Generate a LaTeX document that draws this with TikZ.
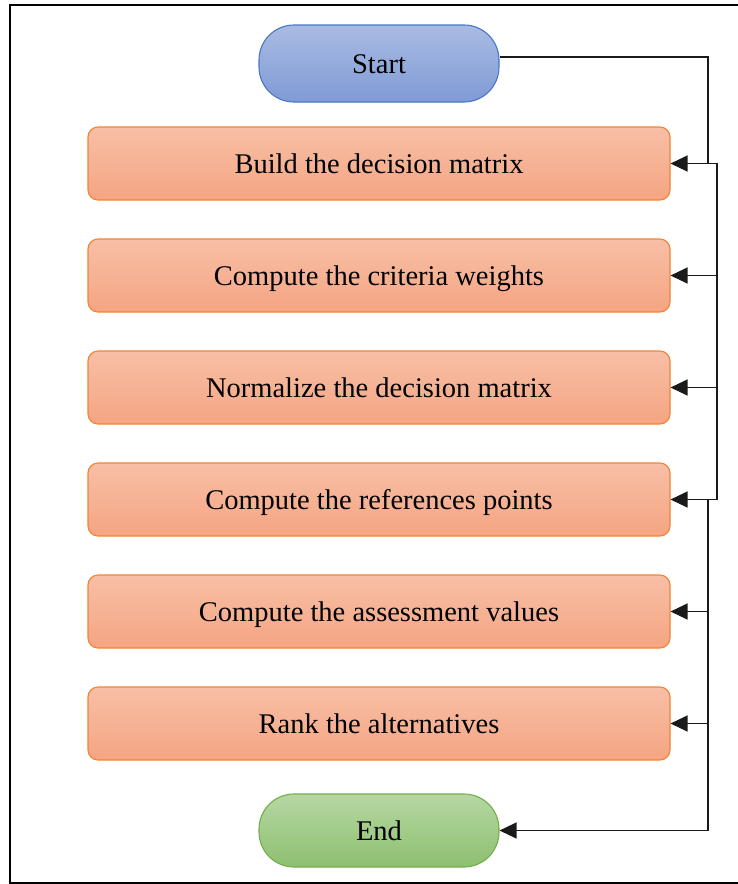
\documentclass[tikz,border=0pt]{standalone}
\usepackage{fontspec}
\setmainfont{Liberation Serif}
\usetikzlibrary{arrows.meta}

\definecolor{startTop}{HTML}{AABBE2}
\definecolor{startBot}{HTML}{7F9BD6}
\definecolor{startLine}{HTML}{4A76C6}
\definecolor{stepTop}{HTML}{F7BFA6}
\definecolor{stepBot}{HTML}{F5A582}
\definecolor{stepLine}{HTML}{F08436}
\definecolor{endTop}{HTML}{B6D7A4}
\definecolor{endBot}{HTML}{8DC06F}
\definecolor{endLine}{HTML}{73AE4B}
\definecolor{wire}{HTML}{1A1A1A}

\tikzset{
  label font/.style={font=\fontsize{28.5}{32}\selectfont, text height=22pt, text depth=3pt},
  stepbox/.style={draw=stepLine, line width=1.1pt, rounded corners=10pt,
    top color=stepTop, bottom color=stepBot,
    minimum width=582pt, minimum height=73pt, inner sep=0pt, label font},
  terminal/.style={line width=1.1pt, rounded corners=35pt,
    minimum width=240pt, inner sep=0pt, label font},
  startbox/.style={terminal, minimum height=77pt, draw=startLine, top color=startTop, bottom color=startBot},
  endbox/.style={terminal, minimum height=73pt, draw=endLine, top color=endTop, bottom color=endBot},
  flow/.style={draw=wire, line width=1.3pt, -{Triangle[length=17pt,width=16pt]}},
}

\begin{document}
\begin{tikzpicture}[x=1pt,y=-1pt]
  \useasboundingbox (0,0) rectangle (738,884);
  \clip (0,0) rectangle (738,884);

  % outer frame
  \draw[line width=2.2pt, draw=black] (10,5) rectangle (780,883);

  % process nodes
  \node[startbox] (start) at (379,63.5) {Start};
  \node[stepbox] (s1) at (379,163.5) {Build the decision matrix};
  \node[stepbox] (s2) at (379,275.5) {Compute the criteria weights};
  \node[stepbox] (s3) at (379,387.5) {Normalize the decision matrix};
  \node[stepbox] (s4) at (379,499.5) {Compute the references points};
  \node[stepbox] (s5) at (379,611.5) {Compute the assessment values};
  \node[stepbox] (s6) at (379,723.5) {Rank the alternatives};
  \node[endbox] (end) at (379,830.5) {End};

  % return rails on the right
  \coordinate (outer) at (708,0);
  \coordinate (inner) at (717,0);
  \coordinate (startexit) at ([yshift=6.5pt]start.east);

  % connectors
  \draw[flow] (startexit) -| (outer |- s1.east) -- (s1.east);
  \draw[flow] (s1.east) -| (inner |- s2.east) -- (s2.east);
  \draw[flow] (s2.east) -| (inner |- s3.east) -- (s3.east);
  \draw[flow] (s3.east) -| (inner |- s4.east) -- (s4.east);
  \draw[flow] (s4.east) -| (outer |- s5.east) -- (s5.east);
  \draw[flow] (s5.east) -| (outer |- s6.east) -- (s6.east);
  \draw[flow] (s6.east) -| (outer |- end.east) -- (end.east);
\end{tikzpicture}
\end{document}
